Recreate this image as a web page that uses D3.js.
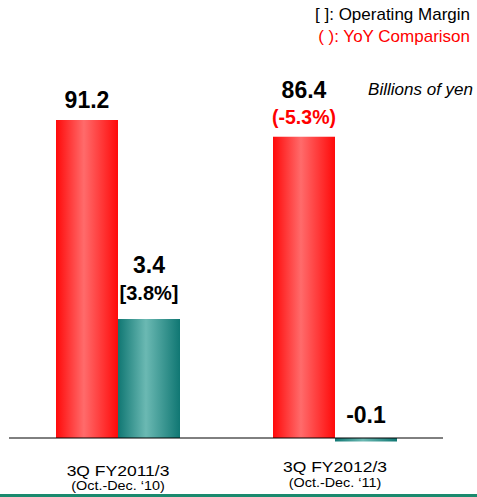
<!DOCTYPE html>
<html>
<head>
<meta charset="utf-8">
<script src="https://cdn.jsdelivr.net/npm/d3@7"></script>
<style>
  body { margin: 0; background: #fff; }
  svg text { font-family: "Liberation Sans", Arial, sans-serif; }
</style>
</head>
<body>
<div id="chart"></div>
<script>
// data
var periods = ["3Q FY2011/3", "3Q FY2012/3"];
var periodSubs = ["(Oct.-Dec. \u201810)", "(Oct.-Dec. \u201811)"];
var sales = [91.2, 86.4];
var opIncome = [3.4, -0.1];
var salesNotes = ["", "(-5.3%)"];
var marginNotes = ["[3.8%]", ""];

var W = 477, H = 497;
var baseY = 438;
var barW = 62;

var svg = d3.select("#chart").append("svg")
    .attr("width", W)
    .attr("height", H);

var defs = svg.append("defs");

function barGrad(id, edge, mid) {
    var g = defs.append("linearGradient")
        .attr("id", id)
        .attr("x1", "0%").attr("x2", "100%")
        .attr("y1", "0%").attr("y2", "0%");
    g.append("stop").attr("offset", "0%").attr("stop-color", edge);
    g.append("stop").attr("offset", "45%").attr("stop-color", mid);
    g.append("stop").attr("offset", "100%").attr("stop-color", edge);
}
barGrad("redGrad", "#ff0a0a", "#ff6b6b");
barGrad("tealGrad", "#107773", "#6bb9b3");

// left edge of each pair of bars
var x0 = d3.scalePoint()
    .domain(periods)
    .range([56, 273]);

// two separate value scales (sales / operating income)
var ySales = d3.scaleLinear().domain([0, 91.2]).range([baseY, 120]);
var yOp = d3.scaleLinear().domain([0, 3.4]).range([baseY, 319]);

// sales bars
svg.selectAll(".sales")
    .data(sales)
    .enter().append("rect")
    .attr("class", "sales")
    .attr("x", function(d, i) { return x0(periods[i]); })
    .attr("width", barW)
    .attr("y", function(d) { return ySales(d); })
    .attr("height", function(d) { return baseY - ySales(d); })
    .attr("fill", "url(#redGrad)");

// operating income bars
svg.selectAll(".op")
    .data(opIncome)
    .enter().append("rect")
    .attr("class", "op")
    .attr("x", function(d, i) { return x0(periods[i]) + barW; })
    .attr("width", barW)
    .attr("y", function(d) { return Math.min(yOp(d), baseY); })
    .attr("height", function(d) { return Math.abs(baseY - yOp(d)); })
    .attr("fill", "url(#tealGrad)");

// baseline
svg.append("line")
    .attr("x1", 9).attr("x2", 443)
    .attr("y1", baseY).attr("y2", baseY)
    .attr("stroke", "#000")
    .attr("stroke-width", 1);

// sales value labels
svg.selectAll(".salesLbl")
    .data(sales)
    .enter().append("text")
    .attr("class", "salesLbl")
    .attr("x", function(d, i) { return x0(periods[i]) + barW / 2; })
    .attr("y", function(d, i) { return ySales(d) - (salesNotes[i] ? 39 : 12); })
    .attr("text-anchor", "middle")
    .style("font-size", "23px")
    .style("font-weight", "bold")
    .text(function(d) { return d.toFixed(1); });

svg.selectAll(".salesNote")
    .data(salesNotes)
    .enter().append("text")
    .attr("x", function(d, i) { return x0(periods[i]) + barW / 2; })
    .attr("y", function(d, i) { return ySales(sales[i]) - 13; })
    .attr("text-anchor", "middle")
    .attr("fill", "#ff0000")
    .style("font-size", "19.5px")
    .style("font-weight", "bold")
    .text(function(d) { return d; });

// op income labels
svg.selectAll(".opLbl")
    .data(opIncome)
    .enter().append("text")
    .attr("class", "opLbl")
    .attr("x", function(d, i) { return x0(periods[i]) + barW * 1.5; })
    .attr("y", function(d, i) { return d < 0 ? baseY - 15 : yOp(d) - (marginNotes[i] ? 46 : 12); })
    .attr("text-anchor", "middle")
    .style("font-size", "23px")
    .style("font-weight", "bold")
    .text(function(d) { return d.toFixed(1); });

svg.selectAll(".marginNote")
    .data(marginNotes)
    .enter().append("text")
    .attr("x", function(d, i) { return x0(periods[i]) + barW * 1.5; })
    .attr("y", function(d, i) { return yOp(opIncome[i]) - 19; })
    .attr("text-anchor", "middle")
    .style("font-size", "20px")
    .style("font-weight", "bold")
    .text(function(d) { return d; });

// category labels (slightly widened like the original)
svg.selectAll(".cat")
    .data(periods)
    .enter().append("text")
    .attr("class", "cat")
    .attr("transform", function(d, i) {
        return "translate(" + (x0(d) + barW) + "," + (i === 0 ? 475.5 : 471.5) + ") scale(1.13,1)";
    })
    .attr("text-anchor", "middle")
    .style("font-size", "15.5px")
    .text(function(d) { return d; });

svg.selectAll(".catSub")
    .data(periodSubs)
    .enter().append("text")
    .attr("class", "catSub")
    .attr("transform", function(d, i) {
        return "translate(" + (x0(periods[i]) + barW) + "," + (i === 0 ? 490 : 487) + ") scale(1.2,1)";
    })
    .attr("text-anchor", "middle")
    .style("font-size", "12px")
    .text(function(d) { return d; });

// unit + legend
svg.append("text")
    .attr("x", 473).attr("y", 95)
    .attr("text-anchor", "end")
    .style("font-size", "17px")
    .style("font-style", "italic")
    .text("Billions of yen");

svg.append("text")
    .attr("x", 470).attr("y", 20)
    .attr("text-anchor", "end")
    .style("font-size", "17px")
    .text("[ ]: Operating Margin");

svg.append("text")
    .attr("x", 470).attr("y", 42)
    .attr("text-anchor", "end")
    .attr("fill", "#ff0000")
    .style("font-size", "17px")
    .text("( ): YoY Comparison");

// bottom rule
svg.append("rect")
    .attr("x", 0).attr("y", 494)
    .attr("width", W).attr("height", 3)
    .attr("fill", "#1a8a6e");
</script>
</body>
</html>
